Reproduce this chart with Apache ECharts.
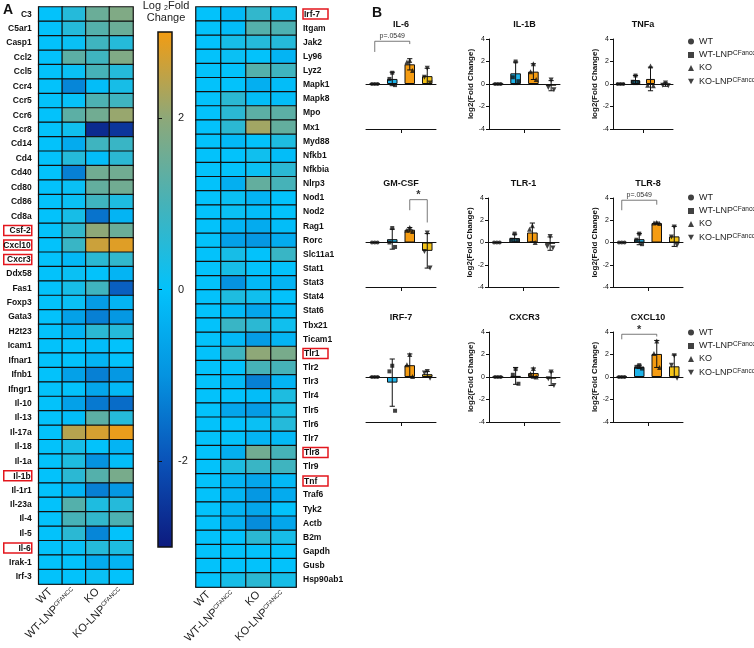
<!DOCTYPE html>
<html><head><meta charset="utf-8">
<script src="https://cdn.jsdelivr.net/npm/echarts@6/dist/echarts.min.js"></script>
<style>html,body{margin:0;padding:0;background:#fff}#c{width:754px;height:648px}</style>
</head><body><div id="c"></div>
<script>
// ---------------- DATA ----------------
const groups = ['WT', 'WT-LNP', 'KO', 'KO-LNP'];

const genesLeft = ['C3','C5ar1','Casp1','Ccl2','Ccl5','Ccr4','Ccr5','Ccr6','Ccr8','Cd14','Cd4','Cd40','Cd80','Cd86','Cd8a','Csf-2','Cxcl10','Cxcr3','Ddx58','Fas1','Foxp3','Gata3','H2t23','Icam1','Ifnar1','Ifnb1','Ifngr1','Il-10','Il-13','Il-17a','Il-18','Il-1a','Il-1b','Il-1r1','Il-23a','Il-4','Il-5','Il-6','Irak-1','Irf-3'];
// log2 fold change: WT, WT-LNP, KO, KO-LNP
const heatLeft = [
 [0,0.5,1.5,1.8],[0,0.5,1.2,1.5],[0,0.1,0.9,0.5],[0,1.3,0.9,1.8],[0,0.1,1.0,0.5],
 [0,-1.2,-0.1,0.3],[0,0.05,1.1,0.9],[0,1.3,1.6,2.1],[0,0.2,-2.7,-2.5],[0,-0.5,0.9,0.8],
 [0,0.5,-0.1,0.6],[0,-1.3,1.6,1.6],[0,0.1,1.4,1.6],[0,0.1,0.9,0.4],[0,0.3,-1.5,-0.3],
 [0,0.7,2.0,1.5],[0,0.8,2.6,2.8],[0,-0.2,0.6,0.7],[0,0.1,0.0,-0.3],[0,0.3,0.9,-1.8],
 [0,0.1,-0.8,-0.3],[0,-0.7,-1.3,-0.9],[0,-0.3,0.6,0.5],[0,0.0,-0.1,0.0],[0,0.0,-0.3,0.0],
 [0,-0.7,-1.3,-0.9],[0,0.0,-0.6,-0.2],[0,-0.7,-1.4,-1.6],[0,-0.1,1.3,0.5],[0,2.4,2.7,2.9],
 [0,0.3,0.0,-0.3],[0,0.4,-1.0,-0.1],[0,0.6,1.2,1.7],[0,-0.3,-1.3,-0.9],[0,1.2,0.4,0.5],
 [0,1.0,0.7,1.1],[0,0.6,-1.2,0.0],[0,0.1,0.5,0.4],[0,0.0,-0.5,-0.3],[0,0.0,0.1,0.0]
];

const genesMid = ['Irf-7','Itgam','Jak2','Ly96','Lyz2','Mapk1','Mapk8','Mpo','Mx1','Myd88','Nfkb1','Nfkbia','Nlrp3','Nod1','Nod2','Rag1','Rorc','Slc11a1','Stat1','Stat3','Stat4','Stat6','Tbx21','Ticam1','Tlr1','Tlr2','Tlr3','Tlr4','Tlr5','Tlr6','Tlr7','Tlr8','Tlr9','Tnf','Traf6','Tyk2','Actb','B2m','Gapdh','Gusb','Hsp90ab1'];
const heatMid = [
 [0,-0.2,0.7,0.2],[0,-0.1,1.2,1.1],[0,0.3,0.5,0.5],[0,0.1,0.0,-0.3],[0,0.0,1.2,0.9],
 [0,0.0,-0.4,-0.1],[0,0.6,-0.1,-0.1],[0,0.6,1.3,1.3],[0,0.6,2.2,1.4],[0,-0.2,0.0,0.4],
 [0,0.0,0.2,-0.1],[0,0.0,0.1,0.6],[0,-0.4,1.4,1.0],[0,0.1,-0.3,0.0],[0,0.1,-0.1,0.0],
 [0,-0.3,-0.5,-0.1],[0,-0.7,-0.9,-0.5],[0,0.3,0.0,0.8],[0,0.3,0.0,0.0],[0,-1.0,-0.2,-0.3],
 [0,0.4,0.2,0.0],[0,-0.2,-0.6,-0.2],[0,0.8,0.6,0.2],[0,-0.2,-0.8,-0.3],[0,0.9,2.0,1.7],
 [0,0.0,1.0,1.0],[0,-0.2,-1.3,-0.3],[0,0.0,-0.1,0.4],[0,-0.6,-0.8,0.3],[0,0.0,0.1,0.5],
 [0,0.0,-0.3,-0.2],[0,-0.4,1.6,1.0],[0,0.4,0.8,0.9],[0,-0.3,-0.6,-0.2],[0,-0.3,-0.9,-0.5],
 [0,-0.3,-0.6,0.0],[0,-0.4,-1.1,-0.6],[0,0.0,0.6,0.3],[0,0.0,0.0,0.0],[0,0.0,0.0,0.0],
 [0,0.3,0.6,0.3]
];
const highlightGenes = ['Csf-2','Cxcl10','Cxcr3','Il-1b','Il-6','Irf-7','Tlr1','Tlr8','Tnf'];
const colorbarTicks = [-2, 0, 2];

// Panel B: bar means, SD and individual points (WT, WT-LNP, KO, KO-LNP)
const IL6_mean = [0, 0.45, 1.75, 0.7];
const IL6_sd = [0, 0.6, 0.5, 0.7];
const IL6_pts = [[0,0,0],[1.0,0.45,-0.1],[2.1,1.95,1.2],[1.4,0.6,0.1]];

const IL1B_mean = [0, 0.95, 1.1, -0.15];
const IL1B_sd = [0, 1.0, 0.7, 0.45];
const IL1B_pts = [[0,0,0],[2.0,0.6,0.25],[1.8,1.1,0.4],[0.35,-0.3,-0.5]];

const TNFA_mean = [0, 0.35, 0.45, -0.05];
const TNFA_sd = [0, 0.4, 1.05, 0.15];
const TNFA_pts = [[0,0,0],[0.75,0.2,0.1],[1.6,-0.1,-0.15],[0.1,-0.1,-0.15]];

const GMCSF_mean = [0, 0.3, 1.15, -0.75];
const GMCSF_sd = [0, 0.9, 0.2, 1.55];
const GMCSF_pts = [[0,0,0],[1.3,0.0,-0.4],[1.35,1.1,1.0],[0.85,-0.8,-2.3]];

const TLR1_mean = [0, 0.4, 0.9, -0.1];
const TLR1_sd = [0, 0.35, 0.85, 0.6];
const TLR1_pts = [[0,0,0],[0.8,0.25,0.15],[1.5,1.2,0.0],[0.55,-0.35,-0.5]];

const TLR8_mean = [0, 0.3, 1.75, 0.55];
const TLR8_sd = [0, 0.5, 0.08, 0.9];
const TLR8_pts = [[0,0,0],[0.8,0.25,-0.15],[1.8,1.75,1.7],[1.4,0.5,-0.25]];

const IRF7_mean = [0, -0.5, 1.05, 0.25];
const IRF7_sd = [0, 2.1, 1.0, 0.25];
const IRF7_pts = [[0,0,0],[1.0,0.5,-3.0],[2.0,1.1,0.05],[0.5,0.35,-0.1]];

const CXCR3_mean = [0, 0.1, 0.35, -0.15];
const CXCR3_sd = [0, 0.75, 0.45, 0.6];
const CXCR3_pts = [[0,0,0],[0.7,0.2,-0.6],[0.75,0.3,0.0],[0.45,-0.15,-0.75]];

const CXCL10_mean = [0, 0.9, 2.05, 0.95];
const CXCL10_sd = [0, 0.15, 1.2, 1.0];
const CXCL10_pts = [[0,0,0],[1.05,0.9,0.75],[3.2,2.1,0.85],[1.9,1.05,-0.1]];

// significance brackets: [fromGroup, toGroup, topY, leftLegEnd, rightLegEnd]
const IL6_bracket = [0, 2, 3.8, 2.85, 3.55];
const GMCSF_bracket = [2, 3, 3.85, 2.9, 1.8];
const TLR8_bracket = [0, 2, 3.8, 2.9, 3.4];
const CXCL10_bracket = [0, 2, 3.8, 3.35, 3.6];

const barTicksY = { min: -4, max: 4, interval: 2 };

// ---------------- STYLE / LAYOUT ----------------
const FONT = "'Liberation Sans', Arial, Helvetica, sans-serif";
const INK = '#111';
const cbColors = ['#0d1a7e', '#0a52b8', '#0593e0', '#03c2fb', '#46b2b8', '#8ea878', '#f39c12'];
const barColors = ['#ffffff', '#1fb4ea', '#f59c12', '#f5c419'];
const symbols = ['circle', 'rect', 'triangle', 'triangle'];
const symbolRot = [0, 0, 0, 180];
const legendIcons = ['circle', 'rect', 'triangle', 'path://M0,0L10,0L5,9Z'];
const jitter = [0, -2.8, 2.8];

const rowTop = [39, 198, 332];
const rowH = [90, 89, 90];
const panels = [
  { title: 'IL-6', mean: IL6_mean, sd: IL6_sd, pts: IL6_pts, bracket: IL6_bracket, btxt: 'p=.0549', left: 366, width: 70, row: 0, showY: false },
  { title: 'IL-1B', mean: IL1B_mean, sd: IL1B_sd, pts: IL1B_pts, left: 489, width: 71, row: 0, showY: true },
  { title: 'TNFa', mean: TNFA_mean, sd: TNFA_sd, pts: TNFA_pts, left: 613, width: 60, row: 0, showY: true },
  { title: 'GM-CSF', mean: GMCSF_mean, sd: GMCSF_sd, pts: GMCSF_pts, bracket: GMCSF_bracket, btxt: '*', left: 366, width: 70, row: 1, showY: false },
  { title: 'TLR-1', mean: TLR1_mean, sd: TLR1_sd, pts: TLR1_pts, left: 488, width: 71, row: 1, showY: true },
  { title: 'TLR-8', mean: TLR8_mean, sd: TLR8_sd, pts: TLR8_pts, bracket: TLR8_bracket, btxt: 'p=.0549', left: 613, width: 70, row: 1, showY: true },
  { title: 'IRF-7', mean: IRF7_mean, sd: IRF7_sd, pts: IRF7_pts, left: 366, width: 70, row: 2, showY: false },
  { title: 'CXCR3', mean: CXCR3_mean, sd: CXCR3_sd, pts: CXCR3_pts, left: 489, width: 71, row: 2, showY: true },
  { title: 'CXCL10', mean: CXCL10_mean, sd: CXCL10_sd, pts: CXCL10_pts, bracket: CXCL10_bracket, btxt: '*', left: 613, width: 70, row: 2, showY: true }
];
const legendTop = [37, 193, 328];

// ---------------- BUILD ----------------
const chart = echarts.init(document.getElementById('c'), null, { renderer: 'canvas', width: 754, height: 648 });
const grids = [], xAxes = [], yAxes = [], series = [], graphics = [], legends = [];

function heatX(v) {
  if (v === 'WT-LNP') return '{n|WT-LNP}{s|CFANCC}';
  if (v === 'KO-LNP') return '{n|KO-LNP}{s|CFANCC}';
  return '{n|' + v + '}';
}
const heatXRich = {
  n: { fontSize: 11, fontFamily: FONT, color: '#222' },
  s: { fontSize: 6, fontFamily: FONT, color: '#222', verticalAlign: 'top' }
};

const heatLayouts = [
  { left: 36, top: 7, width: 97, height: 577, side: 'left', genes: genesLeft, vals: heatLeft },
  { left: 196, top: 7, width: 100, height: 580, side: 'right', genes: genesMid, vals: heatMid }
];
heatLayouts.forEach((h, i) => {
  grids.push({ left: h.left, top: h.top, width: h.width, height: h.height });
  xAxes.push({
    type: 'category', gridIndex: i, data: groups, position: 'bottom',
    axisLine: { lineStyle: { color: INK, width: 1.5 } },
    axisTick: { alignWithLabel: true, length: 5, lineStyle: { color: INK } },
    axisLabel: { rotate: 45, margin: 6, interval: 0, formatter: heatX, rich: heatXRich }
  });
  yAxes.push({
    type: 'category', gridIndex: i, data: h.genes, inverse: true, position: h.side,
    axisLine: { lineStyle: { color: INK, width: 1.5 } },
    axisTick: { alignWithLabel: true, length: 6, lineStyle: { color: INK } },
    axisLabel: {
      interval: 0, margin: 7, fontSize: 8.5, fontWeight: 'bold', fontFamily: FONT, color: INK,
      formatter: v => highlightGenes.includes(v) ? '{box|' + v + '}' : v,
      rich: {
        box: {
          fontSize: 8.5, fontWeight: 'bold', fontFamily: FONT, color: INK,
          borderColor: '#e3161d', borderWidth: 1.5, padding: [1, 1, 0, 1],
          width: i === 0 ? 26 : 23, align: i === 0 ? 'right' : 'left'
        }
      }
    }
  });
  const data = [];
  h.vals.forEach((row, r) => row.forEach((v, c) => data.push([c, r, v])));
  series.push({
    type: 'heatmap', xAxisIndex: i, yAxisIndex: i, data,
    itemStyle: { borderColor: INK, borderWidth: 1.2 }, emphasis: { disabled: true }, silent: true
  });
});

// colorbar (grid 2)
grids.push({
  left: 158, top: 32, width: 14, height: 515, show: true, borderColor: INK, borderWidth: 1.5,
  backgroundColor: {
    type: 'linear', x: 0, y: 0, x2: 0, y2: 1,
    colorStops: cbColors.slice().reverse().map((c, k, arr) => ({ offset: k / (arr.length - 1), color: c }))
  }
});
xAxes.push({ type: 'value', gridIndex: 2, show: false, min: 0, max: 1 });
yAxes.push({
  type: 'value', gridIndex: 2, min: -3, max: 3, position: 'left',
  axisLine: { show: false }, splitLine: { show: false }, axisLabel: { show: false },
  axisTick: { show: true, inside: true, length: 4, customValues: colorbarTicks, lineStyle: { color: INK } }
});
yAxes.push({
  type: 'value', gridIndex: 2, min: -3, max: 3, position: 'right',
  axisLine: { show: false }, splitLine: { show: false }, axisTick: { show: false },
  axisLabel: { customValues: colorbarTicks, margin: 6, fontSize: 11, fontFamily: FONT, color: '#222' }
});

function errRender(params, api) {
  const c = api.value(0), lo = api.value(1), hi = api.value(2);
  const a = api.coord([c, lo]), b = api.coord([c, hi]);
  const hw = 2.6, st = { stroke: INK, lineWidth: 1 };
  return {
    type: 'group', children: [
      { type: 'line', shape: { x1: a[0], y1: a[1], x2: b[0], y2: b[1] }, style: st },
      { type: 'line', shape: { x1: a[0] - hw, y1: a[1], x2: a[0] + hw, y2: a[1] }, style: st },
      { type: 'line', shape: { x1: b[0] - hw, y1: b[1], x2: b[0] + hw, y2: b[1] }, style: st }
    ]
  };
}
function makeBracket(txt) {
  return function (params, api) {
    const x1 = api.value(0), x2 = api.value(1), top = api.value(2), l = api.value(3), r = api.value(4);
    const pL = api.coord([x1, l]), pTL = api.coord([x1, top]), pTR = api.coord([x2, top]), pR = api.coord([x2, r]);
    const big = txt === '*';
    return {
      type: 'group', children: [
        { type: 'polyline', shape: { points: [pL, pTL, pTR, pR] }, style: { stroke: '#555', lineWidth: 0.8, fill: null } },
        {
          type: 'text', x: (pTL[0] + pTR[0]) / 2, y: pTL[1] - (big ? -1 : 1.5),
          style: { text: txt, align: 'center', verticalAlign: 'bottom', fontSize: big ? 11 : 7, fontFamily: FONT, fill: '#333', fontWeight: big ? 'bold' : 'normal' }
        }
      ]
    };
  };
}

panels.forEach((p, k) => {
  const gi = grids.length;
  grids.push({ left: p.left, top: rowTop[p.row], width: p.width, height: rowH[p.row] });
  const xa = xAxes.length;
  xAxes.push({
    type: 'category', gridIndex: gi, data: groups, position: 'top',
    axisLine: { onZero: true, lineStyle: { color: INK, width: 1 } },
    axisTick: { show: false }, axisLabel: { show: false }
  });
  xAxes.push({
    type: 'value', gridIndex: gi, min: 0, max: 4, position: 'bottom',
    axisLine: { onZero: false, lineStyle: { color: INK, width: 1 } },
    axisTick: { customValues: [2], length: 4, lineStyle: { color: INK } },
    axisLabel: { show: false }, splitLine: { show: false }
  });
  const ya = yAxes.length;
  yAxes.push({
    type: 'value', gridIndex: gi, min: barTicksY.min, max: barTicksY.max, interval: barTicksY.interval,
    show: p.showY,
    name: 'log2(Fold Change)', nameLocation: 'middle', nameGap: 13,
    nameTextStyle: { fontSize: 8, fontWeight: 'bold', fontFamily: FONT, color: INK },
    axisLine: { show: true, onZero: false, lineStyle: { color: INK, width: 1 } },
    axisTick: { show: true, length: 3, lineStyle: { color: INK } },
    axisLabel: { fontSize: 7, margin: 4, fontFamily: FONT, color: INK },
    splitLine: { show: false }
  });
  series.push({
    type: 'bar', xAxisIndex: xa, yAxisIndex: ya, barWidth: '60%', silent: true, z: 2,
    data: p.mean.map((v, i) => ({ value: v, itemStyle: { color: barColors[i] } })),
    itemStyle: { borderColor: INK, borderWidth: 1 }
  });
  series.push({
    type: 'custom', xAxisIndex: xa, yAxisIndex: ya, renderItem: errRender, silent: true, z: 3,
    data: p.mean.map((m, i) => [i, m - p.sd[i], m + p.sd[i]]).filter((d, i) => p.sd[i] > 0)
  });
  groups.forEach((g, gi2) => {
    series.push({
      type: 'scatter', name: g, xAxisIndex: xa, yAxisIndex: ya, silent: true, z: 4,
      symbol: symbols[gi2], symbolRotate: symbolRot[gi2], symbolSize: gi2 >= 2 ? 5 : 4,
      itemStyle: { color: INK },
      data: p.pts[gi2].map((v, j) => ({ value: [gi2, v], symbolOffset: [jitter[j], 0] }))
    });
  });
  if (p.bracket) {
    series.push({
      type: 'custom', xAxisIndex: xa, yAxisIndex: ya, renderItem: makeBracket(p.btxt), silent: true, clip: false, z: 5,
      data: [p.bracket]
    });
  }
  graphics.push({
    type: 'text', x: p.left + p.width / 2, y: rowTop[p.row] - 14,
    style: { text: p.title, align: 'center', verticalAlign: 'middle', fontSize: 9, fontWeight: 'bold', fontFamily: FONT, fill: INK }
  });
});

legendTop.forEach(t => {
  legends.push({
    orient: 'vertical', left: 688, top: t, itemWidth: 6, itemHeight: 6, itemGap: 4, padding: 0,
    selectedMode: false,
    data: groups.map((g, i) => ({ name: g, icon: legendIcons[i] })),
    formatter: n => (n === 'WT-LNP' || n === 'KO-LNP') ? '{n|' + n + '}{s|CFancc}' : '{n|' + n + '}',
    textStyle: {
      rich: {
        n: { fontSize: 9, fontFamily: FONT, color: '#222', lineHeight: 10 },
        s: { fontSize: 6.5, fontFamily: FONT, color: '#222', verticalAlign: 'top', lineHeight: 10 }
      }
    }
  });
});

graphics.push(
  { type: 'text', x: 3, y: 3, style: { text: 'A', fontSize: 14, fontWeight: 'bold', fontFamily: FONT, fill: INK } },
  { type: 'text', x: 372, y: 6, style: { text: 'B', fontSize: 14, fontWeight: 'bold', fontFamily: FONT, fill: INK } },
  {
    type: 'text', x: 166, y: 0,
    style: {
      text: '{a|Log }{b|2}{a|Fold}\n{a|Change}', align: 'center', verticalAlign: 'top',
      rich: {
        a: { fontSize: 11, fontFamily: FONT, fill: '#222', lineHeight: 12 },
        b: { fontSize: 7, fontFamily: FONT, fill: '#222', verticalAlign: 'bottom', lineHeight: 12 }
      }
    }
  }
);

chart.setOption({
  animation: false,
  backgroundColor: '#fff',
  textStyle: { fontFamily: FONT },
  grid: grids,
  xAxis: xAxes,
  yAxis: yAxes,
  visualMap: {
    type: 'continuous', show: false, min: -3, max: 3, dimension: 2, seriesIndex: [0, 1],
    inRange: { color: cbColors }
  },
  legend: legends,
  graphic: graphics,
  series
});
</script>
</body></html>
